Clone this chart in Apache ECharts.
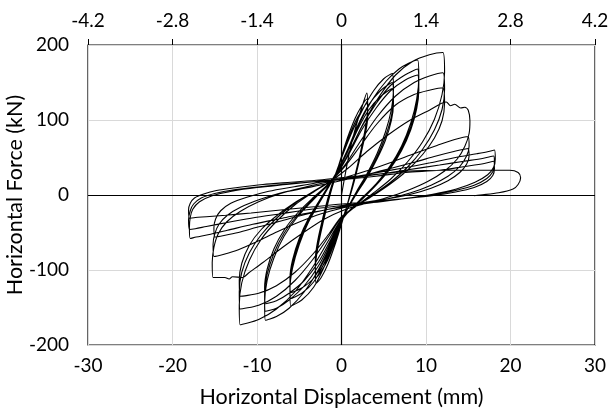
<!DOCTYPE html>
<html>
<head>
<meta charset="utf-8">
<script src="https://cdn.jsdelivr.net/npm/echarts@6/dist/echarts.min.js"></script>
<style>
  html, body { margin: 0; padding: 0; background: #fff; }
  #chart { width: 612px; height: 419px; }
</style>
</head>
<body>
<div id="chart"></div>
<script>
// Axis ticks
const dispTicks = [-30, -20, -10, 0, 10, 20, 30];     // displacement (mm), bottom axis
const driftTicks = [-4.2, -2.8, -1.4, 0, 1.4, 2.8, 4.2]; // drift (%), top axis
const forceTicks = [-200, -100, 0, 100, 200];          // force (kN)

// Cyclic test record: [displacement (mm), force (kN)], branch by branch
const initial = [[0,0],[0.4,25],[1,60],[1.8,95],[2.5,120],[3,136]];

const dn3a = [[3,136],[3.1,116],[2.8,88],[2.2,55],[1.5,22],[0.8,-8],[0.1,-35],[-0.7,-64],[-1.6,-92],[-2.4,-110],[-3,-118]];
const up3b = [[-3,-118],[-3.1,-98],[-2.8,-70],[-2.2,-38],[-1.5,-6],[-0.8,22],[-0.1,48],[0.7,76],[1.6,102],[2.4,119],[3,128]];
const dn3b = [[3,128],[3.1,109],[2.8,83],[2.2,52],[1.5,20],[0.8,-9],[0.1,-34],[-0.7,-60],[-1.6,-86],[-2.4,-102],[-3,-110]];
const up3c = [[-3,-110],[-3.1,-92],[-2.8,-66],[-2.2,-36],[-1.5,-5],[-0.8,21],[-0.1,46],[0.7,72],[1.6,97],[2.4,113],[3,122]];
const dn3c = [[3,122],[3.1,104],[2.8,80],[2.2,50],[1.5,18],[0.8,-9],[0.1,-33],[-0.7,-58],[-1.6,-82],[-2.4,-98],[-3,-105]];

const up6a = [[-3,-105],[-3.1,-86],[-2.8,-60],[-2.2,-30],[-1.5,0],[-0.7,28],[0.3,58],[1.4,88],[2.6,116],[3.8,139],[5,155],[6,162]];
const dn6a = [[6,162],[6.15,140],[5.9,114],[5.2,84],[4.2,55],[3,28],[1.8,5],[0.8,-16],[-0.1,-38],[-1,-66],[-2.1,-97],[-3.3,-123],[-4.7,-140],[-6,-148]];
const up6b = [[-6,-148],[-6.1,-126],[-5.8,-98],[-5,-66],[-3.9,-36],[-2.6,-10],[-1.4,13],[-0.4,34],[0.7,60],[1.9,92],[3.2,120],[4.6,139],[6,150]];
const dn6b = [[6,150],[6.15,129],[5.9,105],[5.2,78],[4.2,51],[3,25],[1.8,3],[0.8,-17],[-0.1,-37],[-1,-63],[-2.1,-92],[-3.3,-116],[-4.7,-131],[-6,-138]];
const up6c = [[-6,-138],[-6.1,-118],[-5.8,-92],[-5,-62],[-3.9,-34],[-2.6,-9],[-1.4,13],[-0.4,33],[0.7,57],[1.9,87],[3.2,113],[4.6,131],[6,142]];
const dn6c = [[6,142],[6.15,122],[5.9,99],[5.2,73],[4.2,48],[3,23],[1.8,2],[0.8,-17],[-0.1,-36],[-1,-61],[-2.1,-88],[-3.3,-111],[-4.7,-124],[-6,-130]];

const up9a = [[-6,-130],[-6.1,-111],[-5.8,-87],[-5,-58],[-3.9,-31],[-2.6,-7],[-1.4,15],[-0.3,36],[0.9,64],[2.2,97],[3.7,128],[5.3,152],[6.8,168],[8,176],[9,180]];
const dn9a = [[9,180],[9.15,157],[8.9,128],[8.2,96],[7.1,65],[5.7,38],[4.1,15],[2.5,-3],[1.1,-19],[-0.1,-36],[-1.2,-64],[-2.7,-99],[-4.4,-129],[-6.2,-151],[-7.7,-162],[-9,-167]];
const up9b = [[-9,-167],[-9.1,-144],[-8.8,-114],[-8,-84],[-6.8,-55],[-5.2,-29],[-3.4,-7],[-1.7,12],[-0.4,31],[0.9,57],[2.4,91],[4.1,122],[5.8,146],[7.5,160],[9,168]];
const dn9b = [[9,168],[9.15,147],[8.9,121],[8.2,91],[7.1,62],[5.7,36],[4.1,14],[2.5,-4],[1.1,-19],[-0.1,-35],[-1.2,-61],[-2.7,-94],[-4.4,-121],[-6.2,-140],[-7.7,-151],[-9,-155]];
const up9c = [[-9,-155],[-9.1,-133],[-8.8,-106],[-8,-78],[-6.8,-51],[-5.2,-27],[-3.4,-6],[-1.7,12],[-0.4,30],[0.9,55],[2.4,87],[4.1,116],[5.8,139],[7.5,153],[9,160]];
const dn9c = [[9,160],[9.15,140],[8.9,115],[8.2,87],[7.1,59],[5.7,34],[4.1,13],[2.5,-5],[1.1,-19],[-0.1,-34],[-1.2,-58],[-2.7,-89],[-4.4,-114],[-6.2,-131],[-7.7,-141],[-9,-145]];

const up12a = [[-9,-145],[-9.1,-124],[-8.8,-99],[-8,-72],[-6.8,-47],[-5.2,-24],[-3.4,-4],[-1.7,13],[-0.3,32],[1.1,62],[2.7,98],[4.5,132],[6.4,160],[8.4,178],[10.4,187],[12,190]];
const dn12a = [[12,190],[12.2,164],[11.9,134],[11,101],[9.6,71],[7.8,44],[5.8,21],[3.7,2],[1.7,-15],[0,-32],[-1.5,-60],[-3.4,-96],[-5.5,-129],[-7.7,-152],[-9.8,-166],[-12,-173]];
const up12b = [[-12,-173],[-12.1,-147],[-11.8,-117],[-10.9,-87],[-9.5,-59],[-7.6,-34],[-5.5,-13],[-3.3,4],[-1.3,19],[0.4,40],[2.2,71],[4.2,104],[6.4,132],[8.6,150],[10.5,159],[12,163]];
const dn12b = [[12,163],[12.2,141],[11.9,114],[11,87],[9.6,61],[7.8,37],[5.8,17],[3.7,0],[1.7,-15],[0,-30],[-1.5,-55],[-3.4,-86],[-5.5,-114],[-7.7,-135],[-9.8,-147],[-12,-152]];
const up12c = [[-12,-152],[-12.1,-129],[-11.8,-103],[-10.9,-77],[-9.5,-53],[-7.6,-30],[-5.5,-11],[-3.3,5],[-1.3,19],[0.4,38],[2.2,65],[4.2,95],[6.4,120],[8.6,134],[10.5,140],[12,143]];
const dn12c = [[12,143],[12.2,123],[11.9,99],[11,76],[9.6,54],[7.8,33],[5.8,15],[3.7,-1],[1.7,-15],[0,-29],[-1.5,-52],[-3.4,-79],[-5.5,-103],[-7.7,-121],[-9.8,-131],[-12,-135]];

const up15a = [[-12,-135],[-12.1,-114],[-11.8,-91],[-10.9,-67],[-9.5,-46],[-7.6,-27],[-5.5,-10],[-3.3,5],[-1.2,19],[0.8,36],[3,58],[5.5,80],[8,99],[10.4,113],[12.4,124],[12.9,119],[13.4,121],[14.1,116],[14.6,117],[15,113]];
const dn15a = [[15,113],[15.2,99],[15.1,82],[14.6,65],[13.7,48],[12.2,32],[10.2,18],[7.8,6],[5.2,-4],[2.6,-12],[0.3,-20],[-2,-32],[-4.5,-50],[-7,-70],[-9.3,-90],[-11,-104],[-11.7,-110],[-12.9,-109],[-13.3,-112],[-13.8,-110],[-14.6,-110],[-15.2,-110]];
const up15b = [[-15.2,-110],[-15.3,-90],[-15.1,-70],[-14.6,-52],[-13.6,-36],[-12,-22],[-9.8,-9],[-7.2,2],[-4.5,10],[-1.8,17],[0.6,24],[3.2,33],[6,44],[8.8,56],[11.3,66],[13.4,74],[15,78]];
const dn15b = [[15,78],[15.1,65],[14.8,52],[14,38],[12.6,25],[10.6,13],[8.2,3],[5.5,-5],[2.7,-11],[0.2,-17],[-2.4,-25],[-5,-36],[-7.6,-49],[-10,-62],[-12.2,-73],[-13.9,-79],[-15.1,-82]];
const up15c = [[-15.1,-82],[-15.2,-66],[-15,-52],[-14.5,-39],[-13.5,-27],[-11.9,-16],[-9.7,-6],[-7.1,3],[-4.4,9],[-1.7,15],[0.7,21],[3.3,28],[6,36],[8.7,44],[11.2,52],[13.3,58],[15,62]];
const dn15c = [[15,62],[15.1,52],[14.8,41],[14,30],[12.6,19],[10.6,9],[8.2,1],[5.5,-5],[2.7,-10],[0.2,-15],[-2.4,-21],[-5,-28],[-7.6,-36],[-10,-43],[-12.2,-50],[-13.9,-54],[-15,-56]];

const up18a = [[-15,-56],[-15.1,-44],[-14.9,-32],[-14.3,-21],[-13.1,-11],[-11.2,-3],[-8.6,5],[-5.6,11],[-2.5,17],[0.5,22],[3.8,29],[7.3,36],[10.5,43],[13.5,50],[16,55],[17.4,58],[18.1,60]];
const dn18a = [[18.1,60],[18.2,48],[18,37],[17.3,27],[15.8,17],[13.6,8],[10.8,1],[7.4,-5],[3.8,-10],[0.2,-16],[-3.5,-23],[-7,-31],[-10.5,-39],[-13.5,-47],[-15.8,-53],[-17.2,-56],[-17.9,-58]];
const up18b = [[-17.9,-58],[-18,-44],[-17.9,-30],[-17.6,-19],[-16.8,-9],[-15.3,-1],[-13,5],[-10,10],[-6.5,14],[-3,18],[0.5,22],[4,27],[7.5,33],[11.6,40],[14.5,45],[16.8,49],[18,52]];
const dn18b = [[18,52],[18.1,41],[17.9,31],[17.2,22],[15.7,13],[13.5,6],[10.7,0],[7.3,-5],[3.7,-10],[0.1,-14],[-3.6,-19],[-7.2,-25],[-10.7,-31],[-13.7,-37],[-16,-42],[-17.3,-45],[-18,-46]];
const up18c = [[-18,-46],[-18.1,-33],[-17.9,-21],[-17.5,-12],[-16.6,-4],[-15,2],[-12.7,7],[-9.7,11],[-6.3,15],[-2.8,18],[0.6,21],[4.1,25],[7.6,30],[11.6,33],[14.6,38],[16.9,42],[18,45]];
const dn18c = [[18,45],[18.1,35],[17.9,26],[17.2,18],[15.7,10],[13.5,4],[10.7,-1],[7.3,-5],[3.7,-9],[0.1,-12],[-3.6,-16],[-7.2,-20],[-10.7,-24],[-13.7,-27],[-16,-29],[-17.3,-30],[-18,-31]];

const upFinal = [[-18,-31],[-18.1,-20],[-17.9,-11],[-17.4,-4],[-16.4,1],[-14.8,6],[-12.3,10],[-9.3,14],[-6,17],[-2.6,20],[0.8,24],[4.5,28],[8,32],[12,33],[16,33],[19.9,33],[20.9,30],[21.2,23],[20.9,14],[20.3,8],[18.6,3],[16.4,0],[15.7,-1]];

const branches = [
  initial,
  dn3a, up3b, dn3b, up3c, dn3c,
  up6a, dn6a, up6b, dn6b, up6c, dn6c,
  up9a, dn9a, up9b, dn9b, up9c, dn9c,
  up12a, dn12a, up12b, dn12b, up12c, dn12c,
  up15a, dn15a, up15b, dn15b, up15c, dn15c,
  up18a, dn18a, up18b, dn18b, up18c, dn18c,
  upFinal
];
const record = [].concat(...branches);

const FONT = 'Lato';
const tickText = { color: '#000', fontFamily: FONT, fontSize: 19 };
const titleText = { color: '#000', fontFamily: FONT, fontSize: 21.5 };

const chart = echarts.init(document.getElementById('chart'), null, { renderer: 'canvas' });
chart.setOption({
  animation: false,
  backgroundColor: '#fff',
  grid: {
    left: 88, right: 17, top: 45, bottom: 74,
    containLabel: false, outerBoundsMode: 'none',
    show: true, borderColor: '#000', borderWidth: 1.2, backgroundColor: 'transparent'
  },
  xAxis: [
    {
      type: 'value', position: 'bottom',
      min: dispTicks[0], max: dispTicks[dispTicks.length - 1], interval: 10,
      axisLine: { show: false, onZero: false },
      axisTick: { show: false },
      splitLine: { show: true, lineStyle: { color: '#d9d9d9', width: 1 } },
      axisLabel: Object.assign({ margin: 11 }, tickText),
      name: 'Horizontal Displacement (mm)', nameLocation: 'middle', nameGap: 41,
      nameMoveOverlap: false,
      nameTextStyle: titleText
    },
    {
      type: 'value', position: 'top',
      min: driftTicks[0], max: driftTicks[driftTicks.length - 1], interval: 1.4,
      axisLine: { show: false, onZero: false },
      axisTick: { show: true, inside: false, length: 6, lineStyle: { color: '#000', width: 1 } },
      splitLine: { show: false },
      axisLabel: Object.assign({
        margin: 15,
        formatter: v => Math.abs(v) < 1e-9 ? '0' : v.toFixed(1)
      }, tickText)
    }
  ],
  yAxis: {
    type: 'value',
    min: forceTicks[0], max: forceTicks[forceTicks.length - 1], interval: 100,
    axisLine: { show: false, onZero: false },
    axisTick: { show: false },
    splitLine: { show: true, lineStyle: { color: '#d9d9d9', width: 1 } },
    axisLabel: Object.assign({ margin: 19 }, tickText),
    name: 'Horizontal Force (kN)', nameLocation: 'middle', nameGap: 62, nameRotate: 90,
    nameMoveOverlap: false,
    nameTextStyle: titleText
  },
  series: [{
    type: 'line',
    xAxisIndex: 0,
    data: record,
    showSymbol: false,
    smooth: 0.3,
    clip: true,
    lineStyle: { color: '#000', width: 1.1 },
    markLine: {
      silent: true, symbol: 'none', animation: false,
      label: { show: false },
      lineStyle: { color: '#000', width: 1.2, type: 'solid' },
      data: [{ xAxis: 0 }, { yAxis: 0 }]
    }
  }]
});
</script>
</body>
</html>
